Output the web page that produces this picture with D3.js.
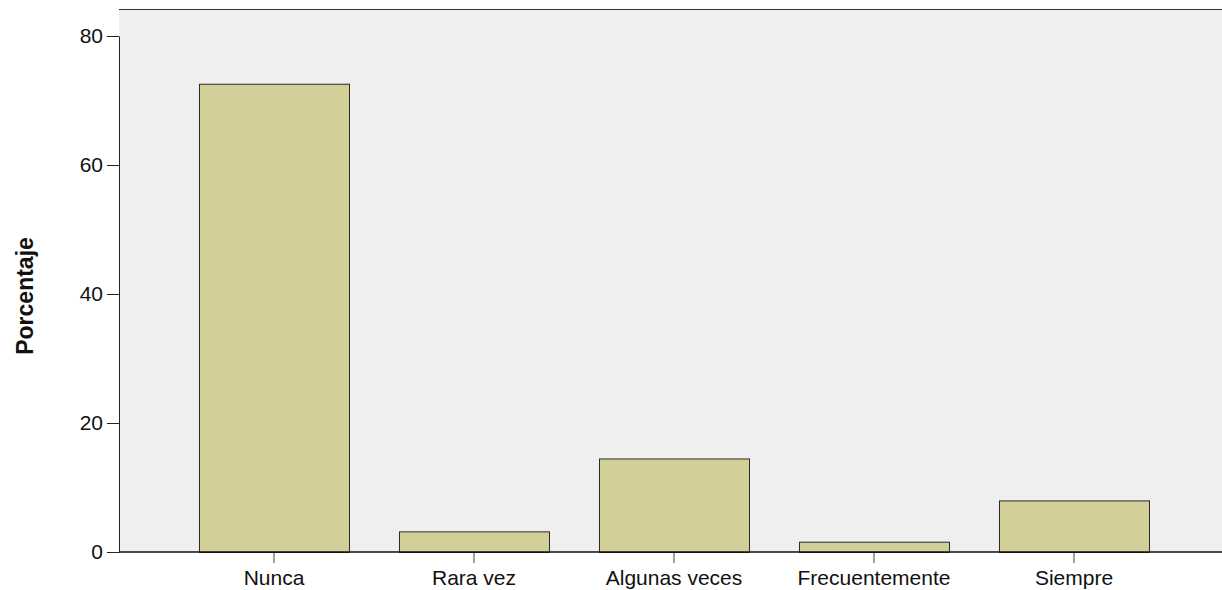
<!DOCTYPE html>
<html><head><meta charset="utf-8">
<script src="https://cdn.jsdelivr.net/npm/d3@7"></script>
<style>body{margin:0;background:#fff;}svg{display:block;font-family:"Liberation Sans",Arial,sans-serif;}</style>
</head><body>
<svg id="c" width="1222" height="590"></svg>
<script>
const categories = ["Nunca","Rara vez","Algunas veces","Frecuentemente","Siempre"];
const values = [72.6, 3.2, 14.5, 1.6, 8.0];
const yTicks = [0,20,40,60,80];
const yLabel = "Porcentaje";

(function(){
const svg = d3.select("#c");
const pL = 119, pR = 1222, pT = 9, pB = 552;
const x = d3.scaleBand().domain(categories).range([174,1174]).paddingInner(0.25).paddingOuter(0.125);
const y = d3.scaleLinear().domain([0,80]).range([pB,36]);

svg.append("rect").attr("x",pL).attr("y",pT).attr("width",pR-pL).attr("height",pB-pT).attr("fill","#efefef");
svg.append("line").attr("x1",pL).attr("x2",pR).attr("y1",pT+0.5).attr("y2",pT+0.5).attr("stroke","#333").attr("stroke-width",1);

svg.append("g").selectAll("rect").data(categories).join("rect")
  .attr("x",d=>x(d)+0.5).attr("y",(d,i)=>y(values[i])+0.5)
  .attr("width",x.bandwidth()).attr("height",(d,i)=>pB-y(values[i]))
  .attr("fill","#d3cf98").attr("stroke","#2a2a2a").attr("stroke-width",1);

const ya = svg.append("g").attr("transform",`translate(${pL},0)`)
  .call(d3.axisLeft(y).tickValues(yTicks).tickSize(12).tickPadding(4).tickSizeOuter(0));
ya.select(".domain").attr("stroke","#222");
ya.selectAll("line").attr("stroke","#222");
ya.selectAll("text").attr("font-size",21).attr("fill","#111").attr("font-family","Liberation Sans, Arial, sans-serif");

const xa = svg.append("g").attr("transform",`translate(0,${pB})`)
  .call(d3.axisBottom(x).tickSize(11).tickPadding(7).tickSizeOuter(0));
xa.select(".domain").remove();
xa.selectAll("line").attr("stroke","#444");
xa.selectAll("text").attr("font-size",21).attr("fill","#111").attr("font-family","Liberation Sans, Arial, sans-serif");
svg.append("line").attr("x1",pL).attr("x2",pR).attr("y1",pB).attr("y2",pB).attr("stroke","#111").attr("stroke-width",1.5);

svg.append("text").attr("transform",`translate(33,296) rotate(-90)`).attr("text-anchor","middle")
  .attr("font-size",23).attr("font-weight","bold").attr("fill","#111").text(yLabel);
})();
</script>
</body></html>
